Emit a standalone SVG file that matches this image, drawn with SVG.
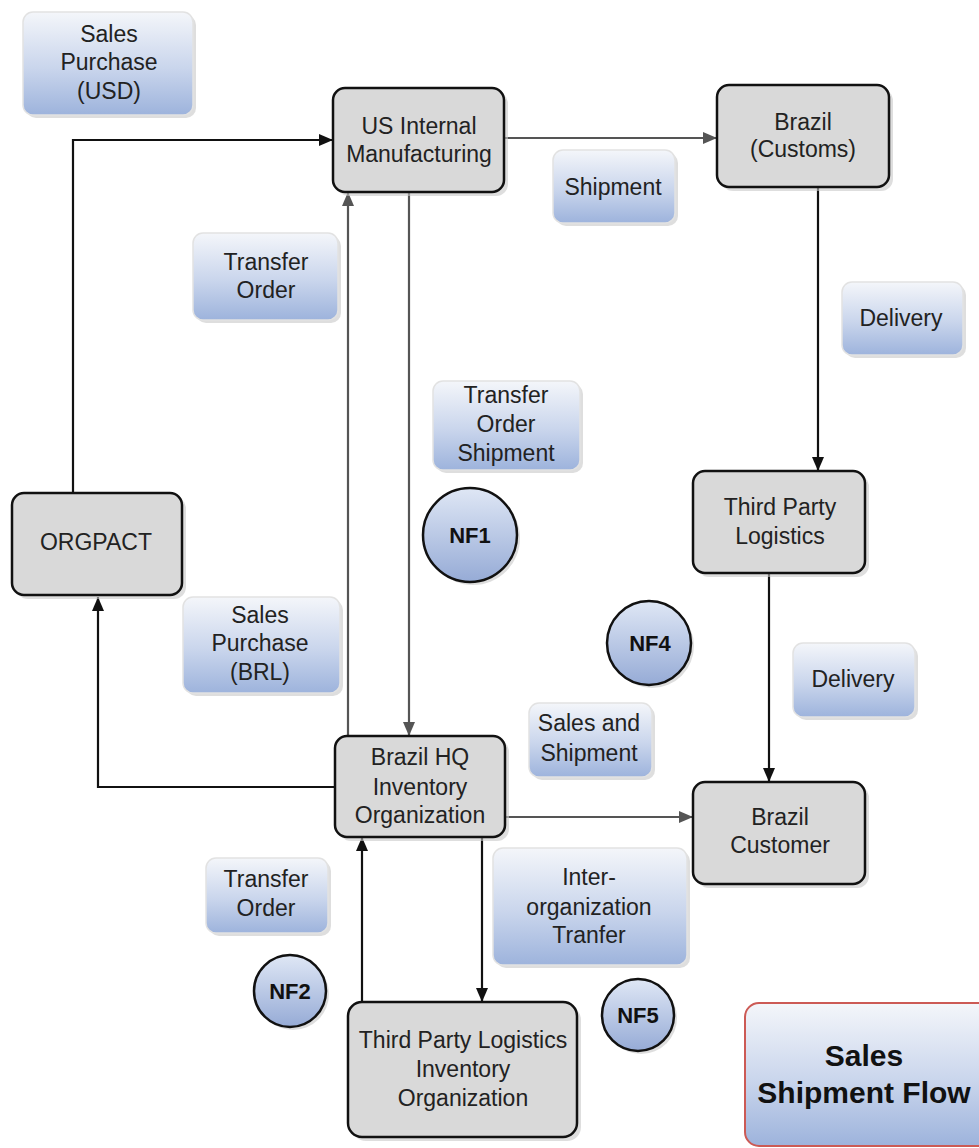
<svg xmlns="http://www.w3.org/2000/svg" width="979" height="1148" viewBox="0 0 979 1148">
<defs>
<linearGradient id="lbl" x1="0" y1="0" x2="0" y2="1">
<stop offset="0" stop-color="#f4f6fa"/>
<stop offset="0.55" stop-color="#c9d5ec"/>
<stop offset="1" stop-color="#9db3dc"/>
</linearGradient>
<linearGradient id="circ" x1="0" y1="0" x2="0" y2="1">
<stop offset="0" stop-color="#dfe7f5"/>
<stop offset="1" stop-color="#96abd6"/>
</linearGradient>
<marker id="ab" viewBox="0 0 14 14" refX="14" refY="7" markerWidth="14" markerHeight="14" markerUnits="userSpaceOnUse" orient="auto">
<path d="M0,1 L14,7 L0,13 Z" fill="#111"/>
</marker>
<marker id="ag" viewBox="0 0 14 14" refX="14" refY="7" markerWidth="14" markerHeight="14" markerUnits="userSpaceOnUse" orient="auto">
<path d="M0,1 L14,7 L0,13 Z" fill="#555"/>
</marker>
</defs>
<style>
.node rect.s{fill:#c8c8c8;opacity:0.6}
.node rect.b{fill:#d9d9d9;stroke:#111;stroke-width:2.5}
.lab rect.s{fill:#d0d0d0;opacity:0.7}
.lab rect.b{fill:url(#lbl);stroke:#e2e2e2;stroke-width:1.5}
.nf circle.s{fill:#c8c8c8;opacity:0.6}
.nf circle.b{fill:url(#circ);stroke:#111;stroke-width:2.5}
text{font-family:"Liberation Sans",Arial,sans-serif;font-size:23px;fill:#222;text-anchor:middle}
.nf text{font-weight:bold;font-size:22px;fill:#111}
.title text{font-weight:bold;font-size:30px;fill:#111}
.cb{fill:none;stroke:#111;stroke-width:2.2;marker-end:url(#ab)}
.cg{fill:none;stroke:#555;stroke-width:2.2;marker-end:url(#ag)}
</style>
<rect width="979" height="1148" fill="#fff"/>

<g id="connectors">
<path class="cb" d="M73,493 L73,140 L333,140"/>
<path class="cb" d="M335,787 L98,787 L98,597"/>
<path class="cg" d="M504,138 L717,138"/>
<path class="cb" d="M818,187 L818,471"/>
<path class="cb" d="M769,573 L769,782"/>
<path class="cg" d="M348,736 L348,192"/>
<path class="cg" d="M409,192 L409,736"/>
<path class="cg" d="M505,817 L693,817"/>
<path class="cb" d="M362,1002 L362,837"/>
<path class="cb" d="M482,837 L482,1002"/>
</g>

<g id="us-internal" class="node">
<rect class="s" x="337" y="92" width="171" height="104" rx="12"/>
<rect class="b" x="333" y="88" width="171" height="104" rx="12"/>
<text x="419" y="134">US Internal</text>
<text x="419" y="162">Manufacturing</text>
</g>
<g id="brazil-customs" class="node">
<rect class="s" x="721" y="89" width="172" height="102" rx="12"/>
<rect class="b" x="717" y="85" width="172" height="102" rx="12"/>
<text x="803" y="130">Brazil</text>
<text x="803" y="157">(Customs)</text>
</g>
<g id="third-party-logistics" class="node">
<rect class="s" x="697" y="475" width="172" height="102" rx="12"/>
<rect class="b" x="693" y="471" width="172" height="102" rx="12"/>
<text x="780" y="515">Third Party</text>
<text x="780" y="544">Logistics</text>
</g>
<g id="brazil-customer" class="node">
<rect class="s" x="697" y="786" width="172" height="102" rx="12"/>
<rect class="b" x="693" y="782" width="172" height="102" rx="12"/>
<text x="780" y="825">Brazil</text>
<text x="780" y="853">Customer</text>
</g>
<g id="orgpact" class="node">
<rect class="s" x="16" y="497" width="170" height="102" rx="12"/>
<rect class="b" x="12" y="493" width="170" height="102" rx="12"/>
<text x="96" y="550">ORGPACT</text>
</g>
<g id="brazil-hq" class="node">
<rect class="s" x="339" y="740" width="170" height="101" rx="12"/>
<rect class="b" x="335" y="736" width="170" height="101" rx="12"/>
<text x="420" y="765">Brazil HQ</text>
<text x="420" y="795">Inventory</text>
<text x="420" y="823">Organization</text>
</g>
<g id="tpl-inventory-org" class="node">
<rect class="s" x="352" y="1006" width="229" height="135" rx="14"/>
<rect class="b" x="348" y="1002" width="229" height="135" rx="14"/>
<text x="463" y="1048">Third Party Logistics</text>
<text x="463" y="1077">Inventory</text>
<text x="463" y="1106">Organization</text>
</g>

<g id="lbl-sales-purchase-usd" class="lab">
<rect class="s" x="26" y="15" width="170" height="103" rx="10"/>
<rect class="b" x="23" y="12" width="170" height="103" rx="10"/>
<text x="109" y="42">Sales</text>
<text x="109" y="70">Purchase</text>
<text x="109" y="99">(USD)</text>
</g>
<g id="lbl-transfer-order-1" class="lab">
<rect class="s" x="196" y="236" width="145" height="87" rx="10"/>
<rect class="b" x="193" y="233" width="145" height="87" rx="10"/>
<text x="266" y="270">Transfer</text>
<text x="266" y="298">Order</text>
</g>
<g id="lbl-shipment" class="lab">
<rect class="s" x="556" y="153" width="122" height="73" rx="10"/>
<rect class="b" x="553" y="150" width="122" height="73" rx="10"/>
<text x="613" y="195">Shipment</text>
</g>
<g id="lbl-delivery-1" class="lab">
<rect class="s" x="845" y="285" width="121" height="73" rx="10"/>
<rect class="b" x="842" y="282" width="121" height="73" rx="10"/>
<text x="901" y="326">Delivery</text>
</g>
<g id="lbl-transfer-order-shipment" class="lab">
<rect class="s" x="436" y="384" width="147" height="89" rx="10"/>
<rect class="b" x="433" y="381" width="147" height="89" rx="10"/>
<text x="506" y="403">Transfer</text>
<text x="506" y="432">Order</text>
<text x="506" y="461">Shipment</text>
</g>
<g id="lbl-sales-purchase-brl" class="lab">
<rect class="s" x="186" y="600" width="157" height="96" rx="10"/>
<rect class="b" x="183" y="597" width="157" height="96" rx="10"/>
<text x="260" y="623">Sales</text>
<text x="260" y="651">Purchase</text>
<text x="260" y="680">(BRL)</text>
</g>
<g id="lbl-delivery-2" class="lab">
<rect class="s" x="796" y="646" width="122" height="74" rx="10"/>
<rect class="b" x="793" y="643" width="122" height="74" rx="10"/>
<text x="853" y="687">Delivery</text>
</g>
<g id="lbl-sales-and-shipment" class="lab">
<rect class="s" x="532" y="706" width="123" height="74" rx="10"/>
<rect class="b" x="529" y="703" width="123" height="74" rx="10"/>
<text x="589" y="731">Sales and</text>
<text x="589" y="761">Shipment</text>
</g>
<g id="lbl-transfer-order-2" class="lab">
<rect class="s" x="209" y="861" width="122" height="75" rx="10"/>
<rect class="b" x="206" y="858" width="122" height="75" rx="10"/>
<text x="266" y="887">Transfer</text>
<text x="266" y="916">Order</text>
</g>
<g id="lbl-inter-org-transfer" class="lab">
<rect class="s" x="496" y="851" width="194" height="117" rx="10"/>
<rect class="b" x="493" y="848" width="194" height="117" rx="10"/>
<text x="589" y="885">Inter-</text>
<text x="589" y="915">organization</text>
<text x="589" y="943">Tranfer</text>
</g>

<g id="nf1" class="nf">
<circle class="s" cx="473" cy="538" r="47"/>
<circle class="b" cx="470" cy="535" r="47"/>
<text x="470" y="543">NF1</text>
</g>
<g id="nf4" class="nf">
<circle class="s" cx="652" cy="646" r="42"/>
<circle class="b" cx="649" cy="643" r="42"/>
<text x="650" y="651">NF4</text>
</g>
<g id="nf2" class="nf">
<circle class="s" cx="293" cy="994" r="36"/>
<circle class="b" cx="290" cy="991" r="36"/>
<text x="290" y="999">NF2</text>
</g>
<g id="nf5" class="nf">
<circle class="s" cx="641" cy="1018" r="36"/>
<circle class="b" cx="638" cy="1015" r="36"/>
<text x="638" y="1023">NF5</text>
</g>

<g id="title" class="title">
<rect x="745" y="1003" width="250" height="143" rx="14" fill="url(#lbl)" stroke="#cc5a55" stroke-width="2"/>
<text x="864" y="1066">Sales</text>
<text x="864" y="1103">Shipment Flow</text>
</g>
</svg>
